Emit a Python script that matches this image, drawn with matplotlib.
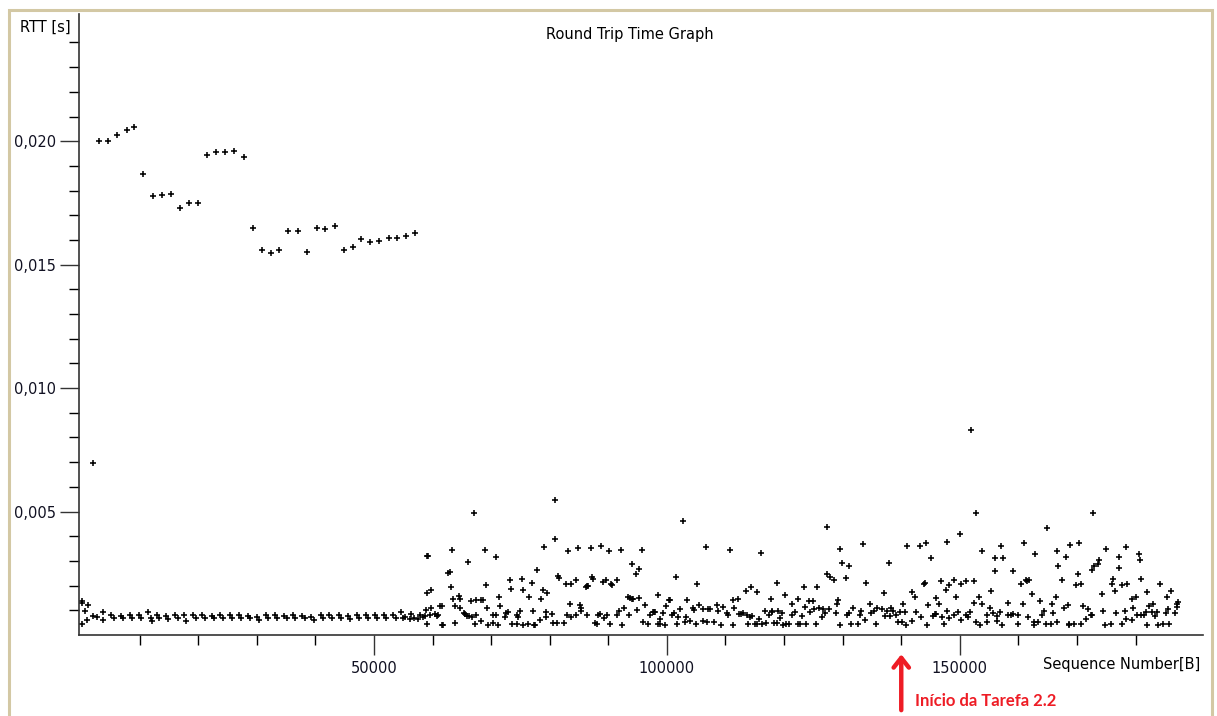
import matplotlib
matplotlib.use("Agg")
import matplotlib.pyplot as plt
from matplotlib.patches import Rectangle
from matplotlib.ticker import FixedLocator, FuncFormatter
import numpy as np

# RTT samples: sequence number in kB, round trip time in ms

# slow samples at the start of the transfer
high_seq_k = [3.1, 4.6, 6.2, 7.8, 9.1, 10.6, 12.3, 13.8, 15.4, 16.9, 18.5, 19.9,
              21.5, 23.0, 24.6, 26.2, 27.8, 29.4, 30.9, 32.5, 33.8, 35.4, 37.0,
              38.6, 40.2, 41.7, 43.3, 44.9, 46.4, 47.8, 49.4, 50.9, 52.5, 54.0,
              55.4, 57.0, 2.05]
high_rtt_ms = [20.02, 20.02, 20.24, 20.45, 20.56, 18.69, 17.77, 17.83, 17.88, 17.29,
               17.50, 17.50, 19.44, 19.55, 19.55, 19.60, 19.38, 16.49, 15.59, 15.48,
               15.59, 16.38, 16.38, 15.53, 16.49, 16.44, 16.55, 15.59, 15.70, 16.02,
               15.91, 15.96, 16.07, 16.07, 16.18, 16.29, 6.95]

# steady band before the second task starts
band_seq_k = [0.1, 0.2, 0.7, 1.0, 1.25, 0.1, 2.1, 2.7, 3.8, 3.8,
              5.2, 5.6, 6.8, 7.2, 8.3, 8.7, 9.9, 10.3, 11.5, 11.9, 12.1,
              13.0, 13.4, 14.5, 14.9, 16.1, 16.5, 17.6, 18.0, 19.2, 19.6,
              20.7, 21.1, 22.3, 22.7, 23.8, 24.2, 25.4, 25.8, 26.9, 27.3,
              28.5, 28.9, 30.0, 30.4, 31.6, 32.0, 33.1, 33.5, 34.7, 35.1,
              36.2, 36.6, 37.8, 38.2, 39.3, 39.7, 40.9, 41.3, 42.4, 42.8,
              44.0, 44.4, 45.5, 45.9, 47.1, 47.5, 48.6, 49.0, 50.2, 50.6,
              51.7, 52.1, 53.3, 53.7]
band_rtt_ms = [1.37, 1.29, 0.99, 0.59, 1.20, 0.45, 0.79, 0.75, 0.93, 0.61,
               0.80, 0.70, 0.78, 0.68, 0.80, 0.69, 0.81, 0.70, 0.95, 0.70, 0.55,
               0.80, 0.68, 0.79, 0.66, 0.82, 0.67, 0.80, 0.58, 0.81, 0.69,
               0.80, 0.70, 0.79, 0.68, 0.80, 0.70, 0.81, 0.69, 0.80, 0.69,
               0.77, 0.70, 0.74, 0.62, 0.82, 0.68, 0.80, 0.70, 0.79, 0.69,
               0.80, 0.70, 0.77, 0.70, 0.72, 0.60, 0.82, 0.70, 0.80, 0.68,
               0.81, 0.70, 0.79, 0.66, 0.80, 0.70, 0.80, 0.70, 0.81, 0.68,
               0.80, 0.70, 0.82, 0.70]

# scattered samples once the parallel transfer begins
burst_seq_k = [
    54.7, 54.9, 55.3, 56.1, 56.4, 56.8, 57.6, 57.9, 58.3, 58.7, 58.9, 59.1, 59.1, 59.3,
    59.6, 59.7, 59.1, 59.8, 60.4, 60.7, 61.0, 61.2, 61.6, 61.6, 61.8, 62.7, 62.9, 63.1,
    63.3, 63.5, 63.8, 63.8, 64.6, 64.7, 64.7, 65.3, 65.5, 65.8, 66.0, 66.3, 66.5, 66.7,
    67.0, 67.2, 67.4, 67.4, 68.3, 68.2, 68.7, 69.0, 69.2, 69.3, 69.5, 70.4, 70.4, 70.8,
    71.1, 71.4, 71.5, 70.9, 72.4, 72.5, 72.8, 73.2, 73.4, 73.6, 74.4, 74.5, 74.6, 75.0,
    75.3, 75.5, 75.5, 76.3, 76.4, 76.9, 77.1, 77.3, 77.5, 77.8, 78.3, 78.5, 78.9, 79.0,
    79.3, 79.4, 79.6, 80.4, 80.5, 80.9, 80.9, 81.3, 81.5, 81.6, 82.5, 82.7, 82.9, 83.2,
    83.4, 83.6, 83.7, 84.5, 84.5, 84.9, 85.2, 85.3, 85.4, 86.2, 86.3, 86.4, 86.6, 87.0,
    87.2, 87.4, 87.7, 88.0, 88.2, 88.6, 88.7, 89.1, 89.3, 89.6, 89.7, 90.1, 90.3, 90.4,
    90.6, 91.4, 91.5, 91.9, 92.2, 92.3, 92.6, 93.4, 93.6, 93.7, 94.0, 94.1, 94.3, 94.8,
    94.9, 95.3, 95.3, 95.7, 95.9, 96.3, 96.8, 97.1, 97.7, 97.8, 98.0, 98.4, 98.5, 98.8,
    98.9, 99.4, 99.7, 99.8, 100.4,
    100.5, 100.8, 101.2, 101.5, 101.8, 101.9, 102.3, 102.7, 103.1, 103.2, 103.4, 104.0,
    104.4, 104.6, 105.0, 105.2, 105.4, 106.1, 106.2, 106.7, 106.9, 107.0, 107.3, 108.0,
    108.5, 108.8, 109.2, 109.5, 110.2, 110.5, 110.8, 111.2, 111.3, 111.4, 112.2, 112.3,
    112.6, 113.0, 113.5, 113.7, 113.9, 114.2, 114.4, 114.6, 115.0, 115.3, 115.4, 115.8,
    116.0, 116.2, 116.7, 116.9, 117.4, 117.7, 117.9, 118.0, 118.3, 118.8, 118.8, 119.0,
    119.3, 119.6, 119.9, 120.2, 120.4, 120.9, 121.3, 121.4, 121.8, 122.4, 122.4, 122.8,
    123.0, 123.4, 123.6, 123.7, 124.3, 124.4, 124.9, 125.1, 125.4, 125.7, 126.0, 126.4,
    126.7, 127.0, 127.4, 127.3, 127.7, 127.9, 128.6, 128.8, 129.0, 129.2, 129.5, 129.6,
    129.9, 130.5, 130.7, 131.0, 131.0, 131.5, 131.8, 132.7, 132.9, 133.2, 133.5, 133.8,
    134.0, 134.6, 134.9, 135.3, 135.7, 135.9, 136.7, 137.1, 137.2, 137.5, 137.9, 138.1,
    138.3, 138.6, 139.1, 139.5, 139.8, 140.1, 140.3, 140.6, 140.8, 140.9, 141.8, 141.9,
    142.3, 142.6, 143.2, 143.3, 143.8, 144.0, 144.3, 144.4, 144.6, 145.0, 145.5, 145.8,
    145.9, 146.0, 146.5,
    146.8, 146.9, 147.3, 147.6, 147.8, 147.8, 148.2, 148.2, 149.0, 149.0, 149.4, 149.6,
    150.0, 150.2, 150.2, 151.0, 151.1, 151.4, 151.7, 152.5, 152.5, 152.8, 152.8, 153.3,
    153.5, 153.8, 153.8, 154.7, 154.7, 155.1, 155.4, 155.6, 156.0, 156.0, 156.4, 156.4,
    156.8, 157.1, 157.2, 157.4, 158.3, 158.3, 158.7, 159.0, 159.0, 160.0, 160.0, 160.5,
    160.7, 160.9, 161.3, 161.5, 161.6, 161.8, 162.3, 162.6, 162.6, 162.8, 163.4, 163.7,
    164.1, 164.3, 164.7, 164.8, 165.5, 165.7, 165.9, 166.4, 166.5, 166.6, 166.8, 167.4,
    167.8, 168.1, 168.4, 168.7, 168.6, 168.8, 169.5, 169.8, 170.2, 170.4, 170.6, 170.7,
    171.0, 171.5, 171.8, 172.3, 172.5, 172.6, 172.8, 172.9, 173.5, 173.8, 174.2, 174.5,
    174.7, 174.9, 175.8, 175.9, 176.2, 176.5, 176.7, 177.2, 177.2, 177.6, 177.7, 178.2,
    178.3, 178.5, 178.3, 179.3, 179.4, 179.6, 180.0, 180.3, 180.5, 180.7, 181.0, 181.0,
    181.5, 181.8, 181.9, 182.0, 182.2, 182.8, 183.0, 183.3, 183.7, 183.9, 184.1, 184.7,
    185.1, 185.3, 185.5, 185.7, 186.0, 186.7, 187.0, 187.1, 187.3, 151.9]
burst_rtt_ms = [
    0.93, 0.70, 0.72, 0.66, 0.86, 0.70, 0.66, 0.83, 0.72, 0.79, 1.03, 1.70, 3.22, 3.22,
    0.83, 1.84, 0.45, 1.10, 0.86, 0.79, 0.83, 1.16, 1.16, 0.39, 0.39, 2.51, 2.55, 1.94,
    3.43, 1.47, 0.49, 1.16, 1.60, 1.47, 1.10, 0.89, 0.86, 0.79, 2.95, 0.79, 1.37, 0.75,
    4.94, 0.45, 1.40, 0.83, 0.55, 1.40, 1.40, 3.43, 2.01, 1.09, 0.39, 0.82, 0.48, 0.82,
    0.39, 1.56, 1.16, 3.18, 0.75, 0.89, 0.93, 2.21, 1.87, 0.45, 0.82, 0.45, 0.75, 0.99,
    2.28, 1.83, 0.39, 0.45, 1.56, 2.10, 0.99, 0.39, 0.39, 2.64, 0.61, 1.47, 1.83, 3.56,
    0.93, 0.75, 1.70, 0.86, 0.49, 5.48, 3.87, 0.49, 2.41, 2.32, 0.49, 2.05, 0.82, 3.39,
    1.24, 2.05, 0.72, 2.21, 0.82, 3.53, 1.20, 1.10, 0.99, 1.94, 0.82, 1.97, 1.98, 3.53,
    2.37, 2.28, 0.49, 0.45, 0.83, 0.86, 3.60, 2.14, 0.70, 2.24, 0.82, 3.39, 0.45, 2.07,
    2.01, 2.21, 0.82, 0.99, 3.45, 0.39, 1.10, 1.53, 0.82, 1.49, 1.47, 2.86, 1.44, 2.48,
    1.03, 2.68, 1.51, 3.43, 0.51, 1.20, 0.45, 0.82, 0.93, 0.93, 0.93, 1.63, 0.45, 0.66,
    0.45, 0.90, 0.39, 1.16, 1.43,
    1.43, 0.83, 0.89, 2.37, 0.45, 0.75, 1.05, 4.61, 0.52, 0.72, 1.43, 0.55,
    1.09, 1.02, 0.45, 2.05, 1.20, 0.55, 1.05, 3.56, 0.52, 1.05, 1.05, 0.52,
    1.20, 0.97, 0.39, 1.13, 0.89, 0.83, 3.43, 1.43, 0.39, 1.10, 1.47, 0.86,
    0.86, 0.89, 1.80, 0.83, 0.45, 0.72, 1.94, 0.79, 0.45, 1.74, 0.45, 0.66,
    3.33, 0.43, 0.97, 0.48, 0.83, 1.47, 0.99, 0.93, 0.48, 2.10, 0.48, 0.99,
    0.70, 0.89, 0.39, 1.63, 0.45, 0.45, 1.24, 0.83, 0.93, 1.47, 0.45, 0.45,
    0.79, 1.94, 1.13, 0.45, 1.36, 0.93, 1.36, 1.06, 0.45, 1.94, 1.10, 0.72,
    1.06, 0.89, 4.37, 2.48, 1.06, 2.37, 2.21, 0.89, 1.26, 1.43, 0.39, 3.49,
    2.91, 2.32, 0.82, 2.80, 0.89, 0.45, 1.10, 0.45, 0.83, 0.97, 3.67, 0.61,
    2.12, 1.26, 0.89, 0.99, 0.45, 1.09, 1.06, 1.70, 0.79, 0.99, 2.91, 0.79,
    1.10, 0.99, 0.83, 0.52, 0.93, 0.52, 1.26, 0.93, 0.39, 3.60, 1.74, 0.56,
    1.56, 0.93, 3.60, 0.72, 2.05, 2.10, 3.72, 0.39, 1.20, 3.13, 0.79, 0.86,
    1.51, 0.86, 1.26,
    2.18, 0.75, 0.45, 1.83, 3.76, 0.99, 2.01, 0.70, 2.21, 0.83, 1.56, 0.93,
    4.10, 2.05, 0.61, 2.18, 0.83, 0.75, 0.93, 2.18, 1.29, 4.94, 0.51, 1.56,
    0.39, 3.39, 1.26, 0.51, 0.83, 1.10, 1.80, 0.89, 3.11, 2.59, 0.78, 0.56,
    0.93, 3.60, 0.39, 3.11, 1.29, 0.83, 0.83, 0.86, 2.59, 0.83, 0.45, 2.05,
    1.26, 3.71, 2.21, 2.18, 0.75, 2.21, 1.67, 0.51, 0.39, 3.29, 0.51, 1.36,
    0.83, 0.99, 0.45, 4.34, 0.45, 1.26, 0.89, 1.52, 3.39, 0.51, 2.80, 2.21,
    1.10, 3.18, 1.20, 0.45, 0.39, 3.66, 0.45, 2.01, 2.48, 3.71, 0.45, 2.05,
    1.16, 0.66, 1.05, 0.83, 2.64, 0.83, 4.94, 2.80, 2.86, 3.02, 1.67, 0.99,
    0.39, 3.49, 0.45, 2.05, 2.28, 1.78, 0.89, 2.70, 3.18, 2.01, 0.45, 0.99,
    3.55, 2.05, 0.66, 0.61, 1.47, 1.10, 1.56, 0.83, 3.29, 3.02, 2.28, 0.83,
    0.83, 0.93, 1.74, 0.39, 1.16, 0.93, 1.26, 0.79, 0.93, 0.39, 2.05, 0.45,
    0.89, 1.52, 1.05, 0.45, 1.79, 0.89, 1.13, 1.24, 1.32, 8.29]

# axis ticks
x_major = [50000, 100000, 150000]
x_minor = [v for v in range(10000, 190000, 10000) if v not in x_major]
y_major = [0.005, 0.010, 0.015, 0.020]
y_minor = [i / 1000 for i in range(1, 25) if i % 5 != 0]

seq = np.array(high_seq_k + band_seq_k + burst_seq_k) * 1000
rtt = np.array(high_rtt_ms + band_rtt_ms + burst_rtt_ms) / 1000

task_start = 140000
red = "#ee1c25"

fig = plt.figure(figsize=(12.17, 7.16), dpi=100)
ax = fig.add_axes([0.0649, 0.1131, 0.9236, 0.8673])

ax.plot(seq, rtt, linestyle="none", marker="+", ms=4, mew=1.15, color="black")

ax.set_xlim(-340, 191500)
ax.set_ylim(0, 0.02515)

for side in ("top", "right"):
    ax.spines[side].set_visible(False)
for side in ("left", "bottom"):
    ax.spines[side].set_linewidth(1.2)
    ax.spines[side].set_color("#333333")

ax.xaxis.set_major_locator(FixedLocator(x_major))
ax.xaxis.set_minor_locator(FixedLocator(x_minor))
ax.yaxis.set_major_locator(FixedLocator(y_major))
ax.yaxis.set_minor_locator(FixedLocator(y_minor))
ax.yaxis.set_major_formatter(FuncFormatter(lambda v, p: f"{v:.3f}".replace(".", ",")))
ax.xaxis.set_major_formatter(FuncFormatter(lambda v, p: f"{v:.0f}"))

ax.tick_params(axis="x", which="major", direction="out", length=14.5, width=1, pad=4, labelsize=10.5)
ax.tick_params(axis="x", which="minor", direction="out", length=7.5, width=1)
ax.tick_params(axis="y", which="major", direction="out", length=13.7, width=1, pad=3, labelsize=10.5)
ax.tick_params(axis="y", which="minor", direction="out", length=7.2, width=1)
ax.tick_params(colors="#333333", labelcolor="#111122")

fig.text(630 / 1217, 1 - 34 / 716, "Round Trip Time Graph", ha="center", va="center", fontsize=10.5)
fig.text(45 / 1217, 1 - 27 / 716, "RTT [s]", ha="center", va="center", fontsize=10.5)
fig.text(1122 / 1217, 1 - 664 / 716, "Sequence Number[B]", ha="center", va="center", fontsize=10.5)

# marker for the start of task 2.2
ax.annotate("", xy=(task_start, -0.031), xycoords=("data", "axes fraction"),
            xytext=(task_start, -0.121), textcoords=("data", "axes fraction"),
            arrowprops=dict(arrowstyle="->,head_length=0.7,head_width=0.55",
                            color=red, lw=3.2, shrinkA=0, shrinkB=0),
            annotation_clip=False)
fig.text(915 / 1217, 1 - 701 / 716, "Início da Tarefa 2.2", ha="left", va="center",
         fontsize=12, fontweight="bold", color=red, family=["Lato", "DejaVu Sans"])

# window frame
fig.patches.append(Rectangle((9 / 1217, -0.05), 1203 / 1217, 1.05 - 10 / 716,
                             transform=fig.transFigure, fill=False,
                             edgecolor="#d3c8a4", linewidth=2.2))

fig.savefig("out.png", dpi=100)
